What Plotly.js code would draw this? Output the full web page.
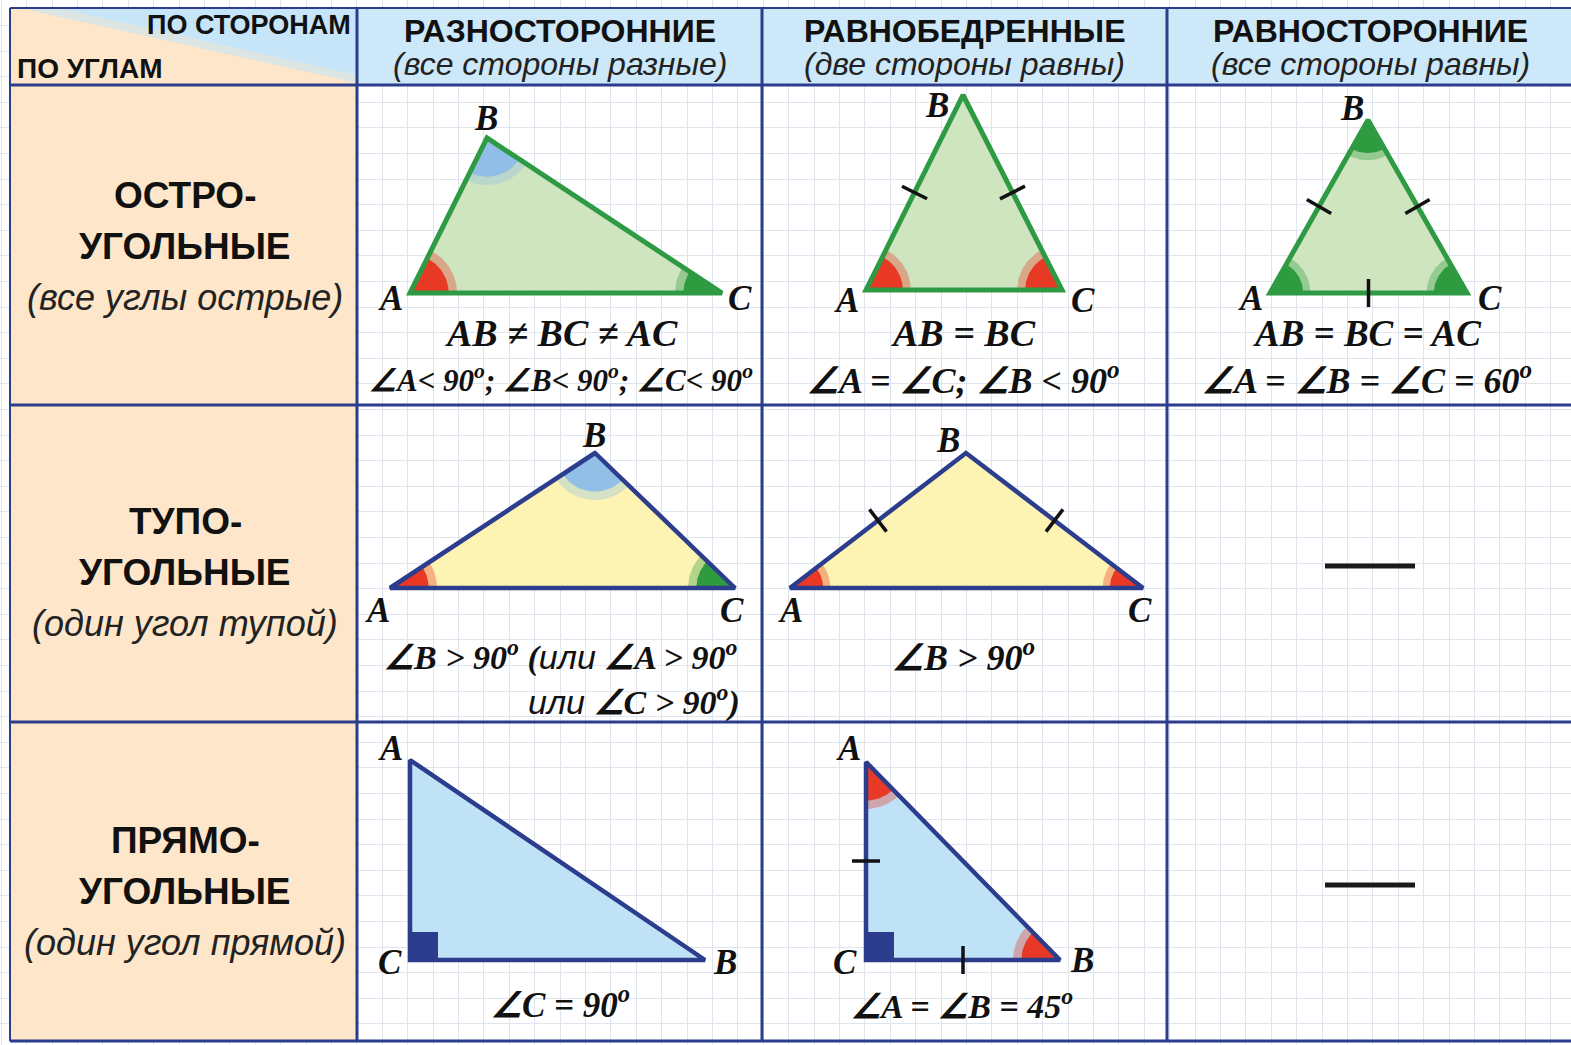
<!DOCTYPE html>
<html>
<head>
<meta charset="utf-8">
<script src="https://cdn.plot.ly/plotly-3.0.1.min.js"></script>
<style>
  body { margin: 0; background: #fff; }
  #chart { width: 1571px; height: 1045px; }
</style>
</head>
<body>
<div id="chart"></div>
<script>
// table frame
const colEdges = [10, 357, 762, 1167, 1571];
const rowEdges = [8, 85, 405, 722, 1041];

const cornerTop = "ПО СТОРОНАМ";
const cornerLeft = "ПО УГЛАМ";
const colHeads = ["РАЗНОСТОРОННИЕ", "РАВНОБЕДРЕННЫЕ", "РАВНОСТОРОННИЕ"];
const colSubs = ["(все стороны разные)", "(две стороны равны)", "(все стороны равны)"];
const rowHeads = [["ОСТРО-", "УГОЛЬНЫЕ"], ["ТУПО-", "УГОЛЬНЫЕ"], ["ПРЯМО-", "УГОЛЬНЫЕ"]];
const rowSubs = ["(все углы острые)", "(один угол тупой)", "(один угол прямой)"];

// triangles, vertices in order A, B, C (picture pixels)
const triX = [
  [410, 487, 722],
  [866, 963, 1062],
  [1270, 1368, 1467],
  [390, 595, 735],
  [790, 966, 1143],
  [410, 705, 410],
  [866, 1060, 866],
];
const triY = [
  [293, 138, 293],
  [290, 95, 290],
  [293, 120, 293],
  [588, 453, 588],
  [588, 453, 588],
  [760, 960, 960],
  [762, 960, 960],
];
const triRow = [0, 0, 0, 1, 1, 2, 2];
const vertexNames = ["A", "B", "C"];
// angle marks at A, B, C
const angleMarks = [
  ["red", "blue", "green"],
  ["red", null, "red"],
  ["green", "green", "green"],
  ["red", "blue", "green"],
  ["red", null, "red"],
  [null, null, null],
  ["red", "red", null],
];
// equal-side ticks
const sideTicks = [[], ["AB", "BC"], ["AB", "BC", "AC"], [], ["AB", "BC"], [], ["AC", "BC"]];
const rightAngleAt = [null, null, null, null, null, "C", "C"];

// formulas below each triangle
const ili = "<span style=\"font-family:'Liberation Sans';font-weight:400;font-style:italic\">или</span>";
const formulaMain = [
  "AB ≠ BC ≠ AC",
  "AB = BC",
  "AB = BC = AC",
  "∠B > 90<sup>o</sup> (" + ili + " ∠A > 90<sup>o</sup>",
  "∠B > 90<sup>o</sup>",
  "∠C = 90<sup>o</sup>",
  "∠A = ∠B = 45<sup>o</sup>",
];
const formulaSecond = [
  "∠A< 90<sup>o</sup>; ∠B< 90<sup>o</sup>; ∠C< 90<sup>o</sup>",
  "∠A = ∠C; ∠B < 90<sup>o</sup>",
  "∠A = ∠B = ∠C = 60<sup>o</sup>",
  ili + " ∠C > 90<sup>o</sup>)",
  "", "", "",
];
const emptyCellRows = [1, 2];

// ---------- styles / layout helpers ----------
const NAVY = "#2b3d8c";
const fillByRow = ["#cfe5bf", "#fdf4b4", "#bfe2f7"];
const lineByRow = ["#2f9a44", NAVY, NAVY];
const markColor = { red: "#e8331f", blue: "#8ebde8", green: "#27983a" };
const markRadius = [42, 40, 36, 42, 36, 0, 42];
const labelOffsets = [
  [[-20, 5], [-1, -20], [18, 5]],
  [[-20, 10], [-26, 10], [21, 10]],
  [[-20, 5], [-16, -12], [23, 5]],
  [[-13, 22], [-1, -18], [-3, 22]],
  [[0, 22], [-18, -13], [-3, 22]],
  [[-20, -12], [20, 2], [-20, 2]],
  [[-18, -14], [22, 0], [-21, 2]],
];

const traces = [];
const annotations = [];
const shapes = [];

// backgrounds
shapes.push({ type: "rect", layer: "between", x0: colEdges[1], x1: colEdges[4], y0: rowEdges[0], y1: rowEdges[1], fillcolor: "#cde8f8", line: { width: 0 } });
shapes.push({ type: "rect", layer: "between", x0: colEdges[0], x1: colEdges[1], y0: rowEdges[0], y1: rowEdges[4], fillcolor: "#fde6c9", line: { width: 0 } });
shapes.push({ type: "path", layer: "between", path: `M${colEdges[0] + 10},${rowEdges[0]} L${colEdges[1]},${rowEdges[0]} L${colEdges[1]},${rowEdges[1] - 2} Z`, fillcolor: "rgba(196,228,247,0.6)", line: { width: 0 } });
shapes.push({ type: "path", layer: "between", path: `M${colEdges[0] + 50},${rowEdges[0]} L${colEdges[1]},${rowEdges[0]} L${colEdges[1]},${rowEdges[1] - 10} Z`, fillcolor: "#c6e5f8", line: { width: 0 } });

// borders
colEdges.slice(0, 4).forEach((x, i) => {
  shapes.push({ type: "line", layer: "between", x0: x, x1: x, y0: rowEdges[0], y1: rowEdges[4], line: { color: NAVY, width: i === 0 ? 2 : 3 } });
});
rowEdges.forEach((y, i) => {
  shapes.push({ type: "line", layer: "between", x0: colEdges[0], x1: colEdges[4], y0: y, y1: y, line: { color: NAVY, width: i === 0 ? 2 : 3 } });
});

// header text
const bold = (size) => ({ family: "Liberation Sans, Arial, sans-serif", size, color: "#111", weight: 700 });
const ital = (size) => ({ family: "Liberation Sans, Arial, sans-serif", size, color: "#222", style: "italic" });
const serif = (size) => ({ family: "Liberation Serif, Times New Roman, serif", size, color: "#111", weight: 700, style: "italic" });

annotations.push({ x: 353, y: 25, text: cornerTop, xanchor: "right", font: bold(27) });
annotations.push({ x: 15, y: 68, text: cornerLeft, xanchor: "left", font: bold(28) });
colHeads.forEach((t, i) => {
  const cx = (colEdges[i + 1] + Math.min(colEdges[i + 2], 1571)) / 2 + (i === 2 ? 1 : 0);
  annotations.push({ x: cx, y: 31, text: t, font: bold(32) });
  annotations.push({ x: cx, y: 64, text: colSubs[i], font: ital(32) });
});
rowHeads.forEach((lines, r) => {
  const base = [195, 521, 840][r];
  annotations.push({ x: 185, y: base, text: lines[0], font: bold(37) });
  annotations.push({ x: 185, y: base + 51, text: lines[1], font: bold(37) });
  annotations.push({ x: 185, y: base + 102, text: rowSubs[r], font: ital(36) });
});

// triangles
function unit(dx, dy) { const l = Math.hypot(dx, dy); return [dx / l, dy / l]; }

triX.forEach((xs, t) => {
  const ys = triY[t];
  const row = triRow[t];
  traces.push({ x: [...xs, xs[0]], y: [...ys, ys[0]], mode: "lines", fill: "toself", fillcolor: fillByRow[row], line: { width: 0 }, hoverinfo: "skip" });

  // angle marks: soft halo + solid sector
  angleMarks[t].forEach((c, v) => {
    if (!c) return;
    const p = (v + 1) % 3, q = (v + 2) % 3;
    const a1 = Math.atan2(ys[p] - ys[v], xs[p] - xs[v]);
    let d = Math.atan2(ys[q] - ys[v], xs[q] - xs[v]) - a1;
    while (d > Math.PI) d -= 2 * Math.PI;
    while (d < -Math.PI) d += 2 * Math.PI;
    [[1.12, 0.35], [0.92, 0.95]].forEach(([k, op]) => {
      const r = markRadius[t] * k;
      const wx = [xs[v]], wy = [ys[v]];
      for (let i = 0; i <= 24; i++) {
        const a = a1 + d * i / 24;
        wx.push(xs[v] + r * Math.cos(a));
        wy.push(ys[v] + r * Math.sin(a));
      }
      wx.push(xs[v]); wy.push(ys[v]);
      traces.push({ x: wx, y: wy, mode: "lines", fill: "toself", fillcolor: markColor[c], opacity: op, line: { width: 0 }, hoverinfo: "skip" });
    });
  });

  // right angle square
  if (rightAngleAt[t]) {
    const v = vertexNames.indexOf(rightAngleAt[t]);
    const p = (v + 1) % 3, q = (v + 2) % 3;
    const u1 = unit(xs[p] - xs[v], ys[p] - ys[v]);
    const u2 = unit(xs[q] - xs[v], ys[q] - ys[v]);
    const s = 28;
    traces.push({
      x: [xs[v], xs[v] + s * u1[0], xs[v] + s * (u1[0] + u2[0]), xs[v] + s * u2[0], xs[v]],
      y: [ys[v], ys[v] + s * u1[1], ys[v] + s * (u1[1] + u2[1]), ys[v] + s * u2[1], ys[v]],
      mode: "lines", fill: "toself", fillcolor: NAVY, line: { width: 0 }, hoverinfo: "skip",
    });
  }

  // outline
  traces.push({ x: [...xs, xs[0], xs[1]], y: [...ys, ys[0], ys[1]], mode: "lines", line: { color: lineByRow[row], width: row === 0 ? 5 : 4.5 }, hoverinfo: "skip" });

  // equal-side ticks
  sideTicks[t].forEach((side) => {
    const i = vertexNames.indexOf(side[0]), j = vertexNames.indexOf(side[1]);
    const mx = (xs[i] + xs[j]) / 2, my = (ys[i] + ys[j]) / 2;
    const u = unit(xs[j] - xs[i], ys[j] - ys[i]);
    const n = [-u[1], u[0]];
    const h = 14;
    traces.push({ x: [mx - h * n[0], mx + h * n[0]], y: [my - h * n[1], my + h * n[1]], mode: "lines", line: { color: "#111", width: 3.5 }, hoverinfo: "skip" });
  });

  // vertex labels
  vertexNames.forEach((name, v) => {
    const off = labelOffsets[t][v];
    annotations.push({ x: xs[v] + off[0], y: ys[v] + off[1], text: name, font: serif(35) });
  });
});

// formulas
const formulaPos = [
  [561, 333, 561, 378],
  [963, 333, 963, 378],
  [1367, 333, 1367, 378],
  [560, 655, 742, 700],
  [963, 655, 0, 0],
  [560, 1002, 0, 0],
  [962, 1004, 0, 0],
];
const formulaSize = [38, 38, 37, 34, 36, 35, 34];
const secondSize = [31, 36, 36, 34, 0, 0, 0];
formulaMain.forEach((txt, t) => {
  const p = formulaPos[t];
  annotations.push({ x: p[0], y: p[1], text: txt, font: serif(formulaSize[t]) });
  if (formulaSecond[t]) {
    annotations.push({ x: p[2], y: p[3], text: formulaSecond[t], font: serif(secondSize[t]), xanchor: t === 3 ? "right" : "center" });
  }
});

// dashes for impossible cases
emptyCellRows.forEach((r) => {
  const cy = [566, 885][r - 1];
  traces.push({ x: [1325, 1415], y: [cy, cy], mode: "lines", line: { color: "#1a1a1a", width: 5 }, hoverinfo: "skip" });
});

const layout = {
  width: 1571,
  height: 1045,
  margin: { l: 0, r: 0, t: 0, b: 0 },
  paper_bgcolor: "#ffffff",
  plot_bgcolor: "#ffffff",
  showlegend: false,
  xaxis: { range: [0, 1571], showgrid: true, gridcolor: "#dfe5ee", gridwidth: 1, tick0: 1195, dtick: 25.4, showticklabels: false, ticks: "", zeroline: false, fixedrange: true },
  yaxis: { range: [1045, 0], showgrid: true, gridcolor: "#dfe5ee", gridwidth: 1, tick0: 435, dtick: 25.6, showticklabels: false, ticks: "", zeroline: false, fixedrange: true },
  shapes,
  annotations: annotations.map((a) => Object.assign({ xref: "x", yref: "y", showarrow: false }, a)),
};

Plotly.newPlot("chart", traces, layout, { staticPlot: true, displayModeBar: false });
</script>
</body>
</html>
